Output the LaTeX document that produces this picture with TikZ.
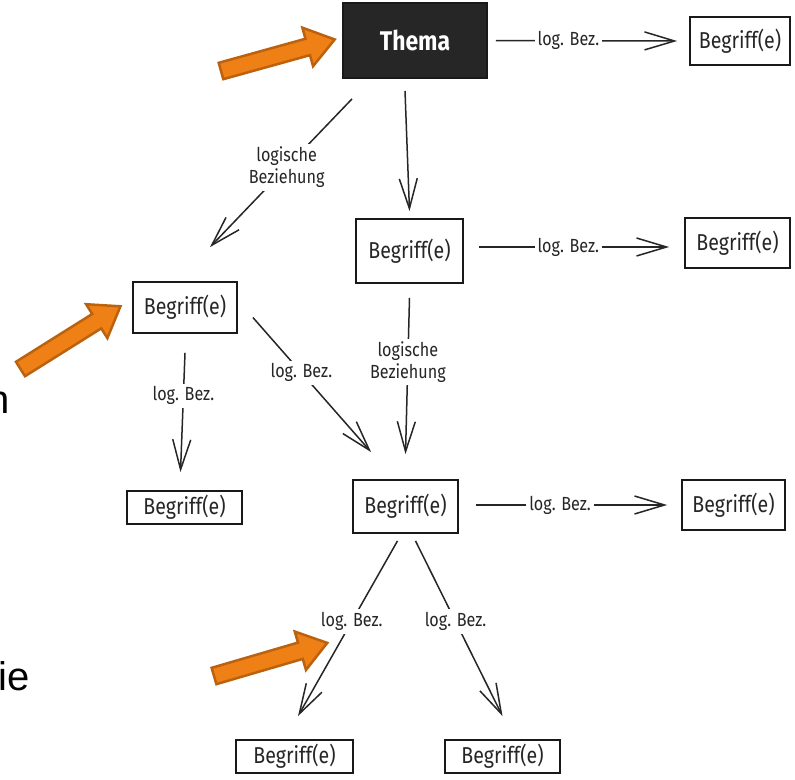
\documentclass[tikz,border=0pt]{standalone}
\usepackage{fontspec}
\newfontfamily\scanfont[FakeStretch=0.85]{Fira Sans}
\newfontfamily\randfont{Liberation Sans}
\usepackage{tikz}
\usetikzlibrary{arrows.meta}
\definecolor{markorange}{RGB}{238,128,22}
\definecolor{markrand}{RGB}{188,98,14}
\tikzset{
  begriff/.style={draw=black!90,line width=1.8pt,inner sep=0pt,text=black!85,
    font=\scanfont\fontsize{23}{25}\selectfont},
  thema/.style={begriff,fill=black!85,text=white,
    font=\scanfont\bfseries\fontsize{27}{29}\selectfont},
  bez/.style={line width=1.5pt,draw=black!85,
    -{Straight Barb[length=30pt,width=18pt,line width=1.5pt]}},
  lbl/.style={fill=white,inner sep=3pt,text=black!85,align=center,
    font=\scanfont\fontsize{19}{22}\selectfont},
  markpfeil/.style={fill=markorange,draw=markrand,line width=2.5pt,line join=miter}
}

\begin{document}
\begin{tikzpicture}[x=1pt,y=1pt]
        % page
        \useasboundingbox[fill=white] (0,0) rectangle (795,-779);

        %% the boxes
        \node[thema,minimum width=144pt,minimum height=75pt] (thema) at (415,-40.5) {Thema};
        \node[begriff,minimum width=100pt,minimum height=48pt] (b0) at (740,-41) {Begriff(e)};
        \node[begriff,minimum width=107pt,minimum height=64pt] (b1) at (409.5,-251) {Begriff(e)};
        \node[begriff,minimum width=105pt,minimum height=50pt] (b2) at (737.5,-243) {Begriff(e)};
        \node[begriff,minimum width=104pt,minimum height=51pt] (b3) at (185,-307.5) {Begriff(e)};
        \node[begriff,minimum width=115pt,minimum height=33pt] (b4) at (184.5,-507.5) {Begriff(e)};
        \node[begriff,minimum width=105pt,minimum height=53pt] (b5) at (405.5,-506.5) {Begriff(e)};
        \node[begriff,minimum width=103pt,minimum height=50pt] (b6) at (733.5,-505) {Begriff(e)};
        \node[begriff,minimum width=117pt,minimum height=33pt] (b7) at (294.5,-756.5) {Begriff(e)};
        \node[begriff,minimum width=115pt,minimum height=33pt] (b8) at (502.5,-756.5) {Begriff(e)};

        %% the relations
        \draw[bez] ([xshift=8pt]thema.east) -- node[lbl,pos=.4]{log. Bez.} ([xshift=-12pt]b0.west);
        \draw[bez] ([xshift=-63pt,yshift=-20pt]thema.south) -- node[lbl,pos=.46]{logische\\Beziehung} ([xshift=25pt,yshift=34pt]b3.north);
        \draw[bez] ([xshift=-10pt,yshift=-12pt]thema.south) -- ([yshift=7pt]b1.north);
        \draw[bez] ([xshift=15pt,yshift=4pt]b1.east) -- node[lbl,pos=.47]{log. Bez.} ([xshift=-15pt,yshift=-4pt]b2.west);
        \draw[bez] ([yshift=-19pt]b3.south) -- node[lbl,pos=.36]{log. Bez.} ([xshift=-4pt,yshift=18pt]b4.north);
        \draw[bez] ([xshift=15pt,yshift=-10pt]b3.east) -- node[lbl,pos=.41]{log. Bez.} ([xshift=19pt,yshift=27pt]b5.north west);
        \draw[bez] ([yshift=-14pt]b1.south) -- node[lbl,pos=.41]{logische\\Beziehung} ([yshift=25pt]b5.north);
        \draw[bez] ([xshift=17pt,yshift=1.5pt]b5.east) -- node[lbl,pos=.44]{log. Bez.} ([xshift=-14pt]b6.west);
        \draw[bez] ([xshift=-8pt,yshift=-7pt]b5.south) -- node[lbl,pos=.46]{log. Bez.} ([xshift=3.5pt,yshift=23pt]b7.north);
        \draw[bez] ([xshift=10pt,yshift=-7pt]b5.south) -- node[lbl,pos=.46]{log. Bez.} ([yshift=23pt]b8.north);

        %% orange markers
        \foreach \x/\y/\w in {221/71/15.5, 20.5/369/32.1, 214/676/16.3}
        {
          \draw[markpfeil,shift={(\x,-\y)},rotate=\w] (0,-8.5) -- (90,-8.5) -- (90,-20)
            -- (118,0) -- (90,20) -- (90,8.5) -- (0,8.5) -- cycle;
        }

        % cut-off text at the left edge
        \node[anchor=base east,inner sep=0pt,font=\randfont\fontsize{40}{44}\selectfont] (rest1) at (10,-413) {n};
        \node[anchor=base east,inner sep=0pt,font=\randfont\fontsize{40}{44}\selectfont] (rest2) at (30,-690) {ie};
      \end{tikzpicture}
\end{document}
